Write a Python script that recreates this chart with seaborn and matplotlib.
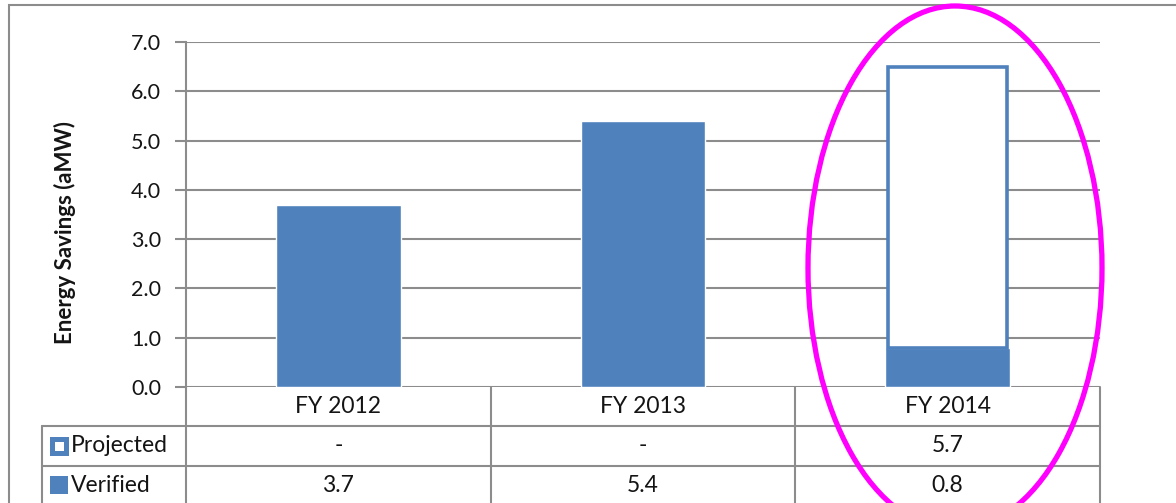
import numpy as np
import matplotlib
matplotlib.use("Agg")
import matplotlib.pyplot as plt
from matplotlib.patches import Ellipse, Rectangle
import seaborn as sns
import pandas as pd

years = ["FY 2012", "FY 2013", "FY 2014"]
verified = [3.7, 5.4, 0.8]
projected = [None, None, 5.7]
series_names = ["Projected", "Verified"]
y_ticks = [0, 1, 2, 3, 4, 5, 6, 7]

BLUE = "#4F81BD"
GRID = "#8C8C8C"
TXT = "#141414"

sns.set_style("white")
plt.rcParams["font.family"] = ["Lato", "DejaVu Sans"]

W, H = 1176, 503
fig = plt.figure(figsize=(W / 100, H / 100), dpi=100)

# plot area in pixels: x 186..1100, y 42..387
ax = fig.add_axes([186 / W, (H - 387) / H, (1100 - 186) / W, (387 - 42) / H])

df = pd.DataFrame({"year": years, "verified": verified})
sns.barplot(data=df, x="year", y="verified", color=BLUE, saturation=1,
            width=0.41, ax=ax, zorder=3)

for i, (v, p) in enumerate(zip(verified, projected)):
    if p is None:
        continue
    ax.bar(i, p, bottom=v, width=0.39, facecolor="white",
           edgecolor=BLUE, linewidth=2.6, zorder=3)

ax.set_xlim(-0.5, 2.5)
ax.set_ylim(0, 7)
ax.set_yticks(y_ticks)
ax.set_yticklabels([f"{t:.1f}" for t in y_ticks], fontsize=15.5, color=TXT)
ax.set_xticks([])
ax.set_xlabel("")
ax.set_ylabel("Energy Savings (aMW)", fontsize=16, fontweight="bold",
              color=TXT)
ax.yaxis.set_label_coords((76 - 186) / (1100 - 186), (387 - 232) / (387 - 42))
ax.yaxis.grid(True, color=GRID, linewidth=1.5, zorder=0)
ax.set_axisbelow(True)
for s in ["top", "right", "bottom"]:
    ax.spines[s].set_visible(False)
ax.spines["left"].set_color(GRID)
ax.spines["left"].set_linewidth(1.5)
ax.tick_params(axis="y", length=8, width=1.5, color=GRID, pad=10, left=True)

# data table under the chart
tab = fig.add_axes([186 / W, 0, (1100 - 186) / W, (H - 387) / H], sharex=ax)
tab.set_ylim(2.95, 0)
tab.axis("off")
col_w = (1100 - 186) / 3
legend_left = -0.5 - (186 - 42) / col_w
lk = dict(color=GRID, linewidth=1.5, clip_on=False)
for xb in [-0.5, 0.5, 1.5, 2.5]:
    tab.plot([xb, xb], [0, 2.95], **lk)
for yb in [1, 2]:
    tab.plot([legend_left, 2.5], [yb, yb], **lk)
tab.plot([legend_left, legend_left], [1, 2.95], **lk)

for i, yr in enumerate(years):
    tab.text(i, 0.5, yr, ha="center", va="center", fontsize=16.5, color=TXT)
    p = projected[i]
    tab.text(i, 1.5, "-" if p is None else f"{p:.1f}", ha="center",
             va="center", fontsize=16.5, color=TXT)
    tab.text(i, 2.5, f"{verified[i]:.1f}", ha="center", va="center",
             fontsize=16.5, color=TXT)

icon_x = legend_left + (59 - 42) / col_w
tab.plot(icon_x, 1.5, marker="s", markersize=9.5, markerfacecolor="white",
         markeredgecolor=BLUE, markeredgewidth=3.6, clip_on=False)
tab.plot(icon_x, 2.5, marker="s", markersize=13, markerfacecolor=BLUE,
         markeredgewidth=0, clip_on=False)
for r, name in enumerate(series_names):
    tab.text(legend_left + (71 - 42) / col_w, 1.5 + r, name, ha="left",
             va="center", fontsize=16.5, color=TXT)

# outer chart border
fig.add_artist(Rectangle((9 / W, -0.05), 1.1, (H - 5) / H + 0.05,
                         transform=fig.transFigure, fill=False,
                         edgecolor=GRID, linewidth=1.5))

# magenta highlight ellipse around FY 2014
fig.add_artist(Ellipse((955 / W, (H - 268) / H), 294 / W, 524 / H,
                       transform=fig.transFigure, fill=False,
                       edgecolor="#FF00FF", linewidth=3.8))

fig.savefig("out.png", dpi=100)
